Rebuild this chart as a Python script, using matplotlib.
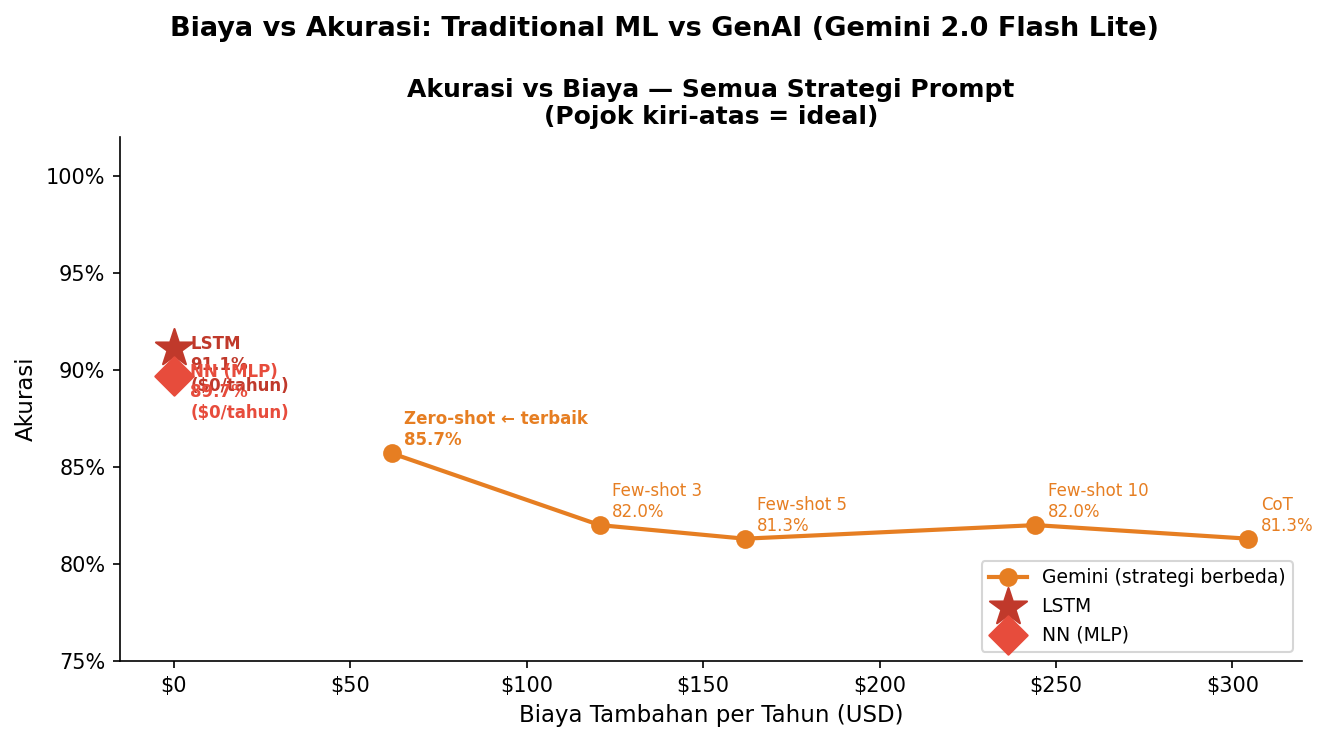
import numpy as np
import matplotlib.pyplot as plt
from matplotlib.ticker import FuncFormatter

# data
strategies = ['Zero-shot', 'Few-shot 3', 'Few-shot 5', 'Few-shot 10', 'CoT']
cost = [61.8, 120.7, 161.8, 244.2, 304.5]
acc = [85.7, 82.0, 81.3, 82.0, 81.3]

lstm_cost, lstm_acc = 0, 91.1
nn_cost, nn_acc = 0, 89.7

c_gem = '#e67e22'
c_lstm = '#c0392b'
c_nn = '#e74c3c'

fig, ax = plt.subplots(figsize=(8.86, 4.947), dpi=150)
fig.subplots_adjust(left=0.0903, right=0.9797, top=0.8154, bottom=0.1092)
fig.suptitle('Biaya vs Akurasi: Traditional ML vs GenAI (Gemini 2.0 Flash Lite)',
             fontsize=13, fontweight='bold', y=0.978)

ax.plot(cost, acc, '-o', color=c_gem, lw=2, ms=8, label='Gemini (strategi berbeda)', zorder=3)
ax.scatter([lstm_cost], [lstm_acc], marker='*', s=350, color=c_lstm, label='LSTM', zorder=5)
ax.scatter([nn_cost], [nn_acc], marker='D', s=170, color=c_nn, label='NN (MLP)', zorder=5)

for i, (name, x, y) in enumerate(zip(strategies, cost, acc)):
    if i == 0:
        txt = f'{name} \u2190 terbaik\n{y:.1f}%'
        fw = 'bold'
    else:
        txt = f'{name}\n{y:.1f}%'
        fw = 'normal'
    ax.annotate(txt, (x, y), xytext=(6, 2), textcoords='offset points',
                fontsize=8, color=c_gem, fontweight=fw, va='bottom')

ax.annotate(f'LSTM\n{lstm_acc:.1f}%\n($0/tahun)', (lstm_cost, lstm_acc), xytext=(8, -8),
            textcoords='offset points', fontsize=8, color=c_lstm, fontweight='bold', va='center')
ax.annotate(f'NN (MLP)\n{nn_acc:.1f}%\n($0/tahun)', (nn_cost, nn_acc), xytext=(8, -8),
            textcoords='offset points', fontsize=8, color=c_nn, fontweight='bold', va='center')

ax.set_ylim(75, 102)
ax.set_yticks([75, 80, 85, 90, 95, 100])
ax.yaxis.set_major_formatter(FuncFormatter(lambda v, p: f'{v:.0f}%'))
ax.xaxis.set_major_formatter(FuncFormatter(lambda v, p: f'${v:.0f}'))
ax.set_xlabel('Biaya Tambahan per Tahun (USD)', fontsize=11)
ax.set_ylabel('Akurasi', fontsize=11)
ax.set_title('Akurasi vs Biaya \u2014 Semua Strategi Prompt\n(Pojok kiri-atas = ideal)',
             fontsize=12, fontweight='bold')
ax.tick_params(labelsize=10)
ax.spines['top'].set_visible(False)
ax.spines['right'].set_visible(False)
ax.legend(loc='lower right', fontsize=9)

fig.savefig('out.png', dpi=150)
